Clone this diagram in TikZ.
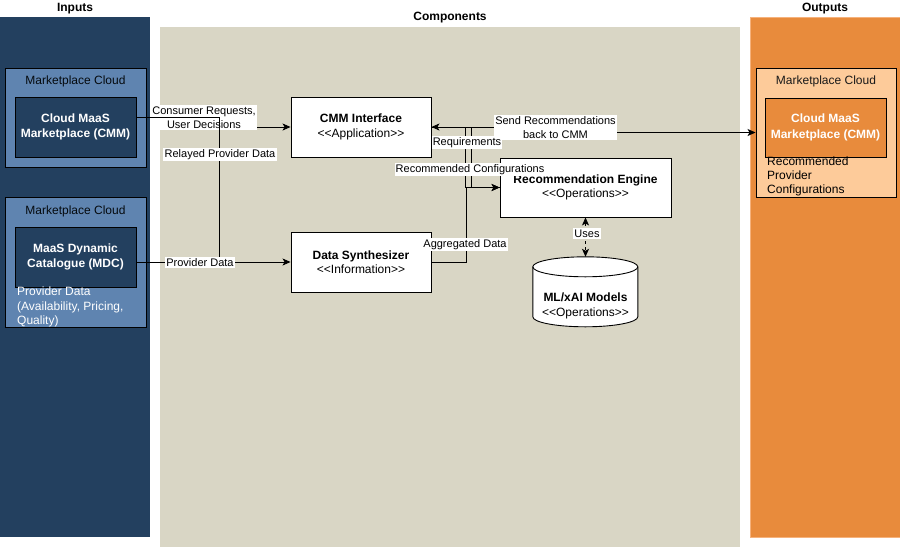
\documentclass[tikz,border=0pt]{standalone}
\usepackage{fontspec}
\setmainfont{Liberation Sans}
\usetikzlibrary{arrows.meta}
\definecolor{navy}{HTML}{23405F}
\definecolor{midblue}{HTML}{5F84B0}
\definecolor{beige}{HTML}{D9D6C5}
\definecolor{orng}{HTML}{E88B3C}
\definecolor{orngedge}{HTML}{F6B27C}
\definecolor{peach}{HTML}{FDCB9A}
\tikzset{
  colbox/.style={rectangle, draw=none, inner sep=0pt},
  grpbox/.style={rectangle, draw=black, line width=0.9pt, inner sep=0pt},
  compbox/.style={rectangle, draw=black, line width=0.9pt, fill=white, inner sep=0pt, align=center, font=\fontsize{12}{14.5}\selectfont},
  coltitle/.style={font=\fontsize{12}{14}\selectfont\bfseries, inner sep=0pt},
  grplabel/.style={font=\fontsize{12}{14}\selectfont, inner sep=0pt},
  elabel/.style={fill=white, inner sep=1.2pt, align=center, font=\fontsize{11}{14}\selectfont},
  wire/.style={line width=0.9pt, draw=black},
  arr/.style={wire, -{Stealth[length=8pt,width=7pt,inset=2pt]}},
  darr/.style={wire, dashed, {Stealth[length=8pt,width=7pt,inset=2pt]}-{Stealth[length=8pt,width=7pt,inset=2pt]}}
}
\begin{document}
\begin{tikzpicture}[x=1pt,y=-1pt]
\useasboundingbox (0,0) rectangle (900,547);
% columns
\node[colbox, fill=navy, minimum width=150pt, minimum height=520pt] (incol) at (75,277) {};
\node[colbox, fill=beige, minimum width=580pt, minimum height=520pt] (compcol) at (450,287) {};
\node[colbox, fill=orng, draw=orngedge, line width=1pt, minimum width=150pt, minimum height=520pt] (outcol) at (825,277) {};
\node[coltitle] (intitle) at (75,8.5) {Inputs};
\node[coltitle] (comptitle) at (450,18) {Components};
\node[coltitle] (outtitle) at (825,8.5) {Outputs};
% input group 1
\node[grpbox, fill=midblue, minimum width=141pt, minimum height=99pt] (mc1) at (75.5,117.5) {};
\node[grplabel, text=black!85!navy] (mc1lbl) at (75.5,81) {Marketplace Cloud};
\node[grpbox, fill=navy, minimum width=121pt, minimum height=60pt, align=center, text=white, font=\fontsize{12}{15.5}\selectfont\bfseries] (cmm) at (75.5,127) {Cloud MaaS\\Marketplace (CMM)};
% input group 2
\node[grpbox, fill=midblue, minimum width=141pt, minimum height=130pt] (mc2) at (75.5,262) {};
\node[grplabel, text=black!85!navy] (mc2lbl) at (75.5,211) {Marketplace Cloud};
\node[grpbox, fill=navy, minimum width=121pt, minimum height=60pt, align=center, text=white, font=\fontsize{12}{15}\selectfont\bfseries] (mdc) at (75.5,257) {MaaS Dynamic\\Catalogue (MDC)};
\node[anchor=north west, inner sep=0pt, align=left, text=white, font=\fontsize{12}{14.5}\selectfont] (pdtext) at (17,287) {Provider Data\\(Availability, Pricing,\\Quality)};
% output group
\node[grpbox, fill=peach, minimum width=140pt, minimum height=129pt] (mco) at (826,132.5) {};
\node[grplabel, text=black!90] (mcolbl) at (826,81) {Marketplace Cloud};
\node[grpbox, fill=orng, minimum width=121pt, minimum height=59pt, align=center, text=white, font=\fontsize{12}{15.5}\selectfont\bfseries] (cmmo) at (825.5,127.5) {Cloud MaaS\\Marketplace (CMM)};
\node[anchor=north west, inner sep=0pt, align=left, text=black, font=\fontsize{12}{14}\selectfont] (rectext) at (767,157) {Recommended\\Provider\\Configurations};
% components
\node[compbox, minimum width=140pt, minimum height=60pt] (cmmi) at (361,127) {\textbf{CMM Interface}\\<{}<Application>{}>};
\node[compbox, minimum width=140pt, minimum height=60pt] (ds) at (361,262) {\textbf{Data Synthesizer}\\<{}<Information>{}>};
\node[compbox, minimum width=171pt, minimum height=59pt] (re) at (585.5,187.5) {\textbf{Recommendation Engine}\\<{}<Operations>{}>};
% cylinder
\node[rectangle, draw=none, minimum width=105pt, minimum height=70pt, inner sep=0pt] (ml) at (585.5,292) {};
\filldraw[fill=white, draw=black, line width=0.9pt] (ml.north west) ++(0,10) -- ++(0,50)
  arc[start angle=180, end angle=360, x radius=52.5pt, y radius=10pt] -- ++(0,-50)
  arc[start angle=0, end angle=180, x radius=52.5pt, y radius=10pt] -- cycle;
\draw[line width=0.9pt] (ml.north west) ++(0,10) arc[start angle=180, end angle=360, x radius=52.5pt, y radius=10pt];
\node[align=center, inner sep=0pt, font=\fontsize{12}{14.5}\selectfont] (mltext) at (585.5,306) {\textbf{ML/xAI Models}\\<{}<Operations>{}>};
% left connectors
\draw[arr] ([yshift=10pt]cmm.east) -- ++(70,0) |- (cmmi.west);
\node[elabel] (lbl1) at (204,117.5) {Consumer Requests,\\User Decisions};
\draw[wire] ([yshift=-5pt]mdc.east) -- ++(82.5,0) |- ([yshift=10pt]cmm.east);
\node[elabel] (lbl2) at (220,154.5) {Relayed Provider Data};
\draw[arr] ([yshift=-5pt]mdc.east) -- (ds.west);
\node[elabel] (lbl3) at (200,262.5) {Provider Data};
% right connectors
\draw[arr] (cmmi.east) -- ++(124,0) |- (mco.west);
\draw[arr] (re.west) -- ++(-34,0) |- (cmmi.east);
\draw[arr] (cmmi.east) -- ++(39.5,0) |- (re.west);
\draw[arr] (ds.east) -- ++(35,0) |- (re.west);
\node[elabel] (lbl4) at (555.5,127.5) {Send Recommendations\\back to CMM};
\node[elabel] (lbl5) at (467,142.5) {Requirements};
\node[elabel] (lbl6) at (470,169.5) {Recommended Configurations};
\node[elabel] (lbl7) at (465,244.5) {Aggregated Data};
\draw[darr] (re.south) -- (ml.north);
\node[elabel] (lbl8) at (587,233.5) {Uses};
\end{tikzpicture}
\end{document}
